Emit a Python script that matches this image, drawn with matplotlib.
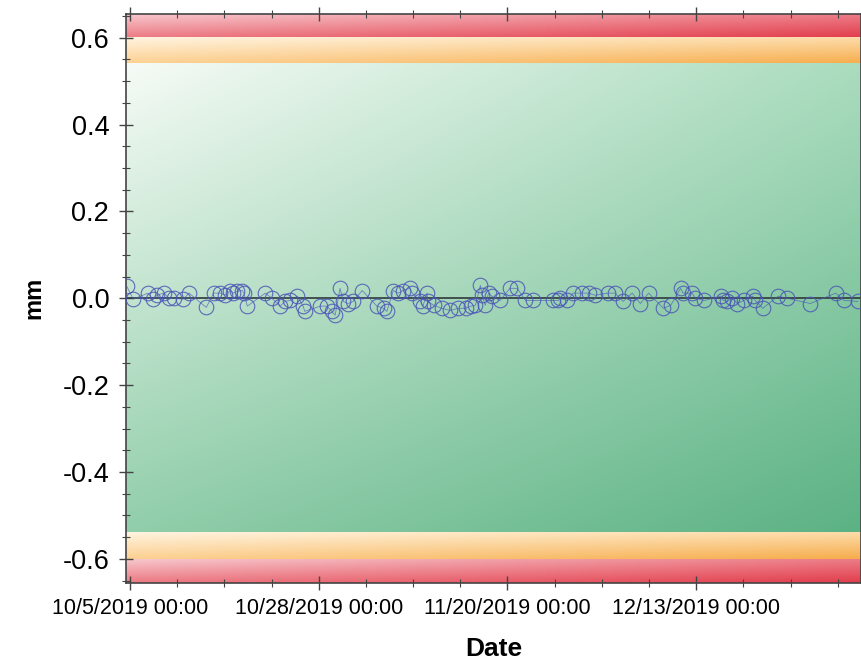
import datetime as dt
import numpy as np
import matplotlib
matplotlib.use("Agg")
import matplotlib.pyplot as plt
import matplotlib.dates as mdates
from matplotlib.ticker import MultipleLocator, AutoMinorLocator, FuncFormatter, FixedLocator

plt.rcParams['font.family'] = ['Liberation Sans', 'DejaVu Sans']
plt.rcParams['axes.unicode_minus'] = False

START = dt.datetime(2019, 10, 5)

# days after START and measured displacement (mm)
day_offset = [
    -0.4, 0.4, 2.2, 2.8, 3.3, 4.1, 4.8, 5.4, 6.5, 7.2, 9.3, 10.2, 11.0, 11.6,
    12.2, 12.6, 13.0, 13.7, 13.9, 14.3, 16.5, 17.3, 18.3, 18.9, 19.5, 20.4,
    21.1, 21.3, 23.2, 24.0, 24.6, 25.0, 25.6, 26.0, 26.6, 27.2, 28.3, 30.1,
    30.9, 31.3, 32.1, 32.7, 33.3, 34.1, 34.4, 35.4, 35.7, 36.2, 36.3, 37.0,
    38.0, 39.0, 40.0, 40.9, 41.5, 42.1, 42.7, 42.9, 43.3, 43.7, 44.1, 45.1,
    46.3, 47.2, 48.2, 49.1, 51.6, 52.2, 52.4, 53.3, 54.0, 55.1, 55.9, 56.7,
    58.2, 59.1, 60.1, 61.2, 62.2, 63.2, 65.0, 65.9, 67.1, 67.4, 68.5, 68.9,
    70.0, 72.0, 72.3, 72.8, 73.4, 74.0, 74.8, 75.9, 76.2, 77.1, 79.0, 80.1,
    82.9, 86.0, 87.0, 88.7,
]
displacement = [
    0.028, -0.002, 0.012, -0.002, 0.007, 0.012, 0.000, 0.000, -0.002, 0.012,
    -0.021, 0.012, 0.012, 0.007, 0.018, 0.012, 0.016, 0.018, 0.012, -0.018,
    0.012, 0.000, -0.018, -0.007, -0.005, 0.005, -0.018, -0.030, -0.018,
    -0.018, -0.030, -0.039, 0.023, -0.007, -0.012, -0.007, 0.018, -0.018,
    -0.023, -0.030, 0.018, 0.012, 0.018, 0.023, 0.012, -0.007, -0.018, 0.012,
    -0.007, -0.016, -0.023, -0.028, -0.023, -0.023, -0.018, -0.016, 0.030,
    0.007, -0.016, 0.012, 0.005, -0.005, 0.023, 0.023, -0.005, -0.005, -0.005,
    -0.005, 0.000, -0.005, 0.012, 0.012, 0.012, 0.007, 0.012, 0.012, -0.007,
    0.012, -0.012, 0.012, -0.023, -0.016, 0.023, 0.012, 0.012, 0.000, -0.005,
    0.005, -0.005, -0.007, 0.000, -0.012, -0.005, 0.005, -0.005, -0.023,
    0.005, 0.000, -0.012, 0.012, -0.005, -0.007,
]

# alarm limits (mm)
warn_limit = 0.54
alarm_limit = 0.60
y_lim = 0.655

tick_dates = ["2019-10-05", "2019-10-28", "2019-11-20", "2019-12-13"]

dates = [START + dt.timedelta(days=d) for d in day_offset]
x_min = START - dt.timedelta(hours=12)
x_max = START + dt.timedelta(days=89.1)
xn0, xn1 = mdates.date2num(x_min), mdates.date2num(x_max)


def gradient(tl, tr, bl, br, n=200):
    """Bilinear colour ramp between four corner colours."""
    u = np.linspace(0, 1, n)[None, :, None]
    v = np.linspace(0, 1, n)[:, None, None]
    tl, tr, bl, br = [np.array(c, float)[None, None, :] / 255 for c in (tl, tr, bl, br)]
    top = tl * (1 - u) + tr * u
    bot = bl * (1 - u) + br * u
    return top * (1 - v) + bot * v


def band(ax, y0, y1, cols):
    img = gradient(*cols)
    ax.imshow(img, extent=(xn0, xn1, y0, y1), origin='upper', aspect='auto',
              interpolation='bilinear', zorder=0)


red = ((247, 200, 205), (236, 125, 135), (236, 120, 130), (226, 60, 75))
orange = ((255, 244, 225), (253, 220, 170), (252, 208, 145), (246, 172, 75))
green = ((246, 251, 246), (170, 220, 190), (145, 206, 170), (92, 178, 132))

fig = plt.figure(figsize=(8.62, 6.6), dpi=100)
ax = fig.add_axes([0.146, 0.117, 0.853, 0.862])

band(ax, alarm_limit, y_lim, red)
band(ax, warn_limit, alarm_limit, orange)
band(ax, -warn_limit, warn_limit, green)
band(ax, -alarm_limit, -warn_limit, orange)
band(ax, -y_lim, -alarm_limit, red)

ax.axhline(0, color='#2f3a3a', lw=1.2, zorder=2)
ax.plot(dates, displacement, '-', color='#4a5ab8', lw=0.6, alpha=0.7, zorder=3)
ax.plot(dates, displacement, 'o', ms=10.5, mfc='none', mec='#4a55b5',
        mew=0.8, alpha=0.85, zorder=4)

ax.set_xlim(xn0, xn1)
ax.set_ylim(-y_lim, y_lim)

ax.xaxis.set_major_locator(FixedLocator([mdates.date2num(dt.datetime.fromisoformat(d))
                                         for d in tick_dates]))
ax.xaxis.set_minor_locator(AutoMinorLocator(4))
ax.xaxis.set_major_formatter(FuncFormatter(
    lambda v, p: (lambda d: f"{d.month}/{d.day}/{d.year} 00:00")(mdates.num2date(v))))
ax.yaxis.set_major_locator(MultipleLocator(0.2))
ax.yaxis.set_minor_locator(MultipleLocator(0.05))
ax.yaxis.set_major_formatter(FuncFormatter(lambda v, p: f"{v:.1f}"))

ax.tick_params(axis='x', which='both', direction='inout', top=True, labelsize=15.5,
               pad=6, color='#444444')
ax.tick_params(axis='y', which='both', direction='inout', labelsize=19.5, pad=7,
               color='#444444')
ax.tick_params(which='major', length=10, width=1)
ax.tick_params(which='minor', length=6, width=0.8)

for s in ax.spines.values():
    s.set_color('#444444')
    s.set_linewidth(1.2)

ax.set_xlabel('Date', fontsize=19, fontweight='bold', labelpad=13)
ax.set_ylabel('mm', fontsize=17, fontweight='bold', labelpad=12)

fig.savefig('out.png', dpi=100)
